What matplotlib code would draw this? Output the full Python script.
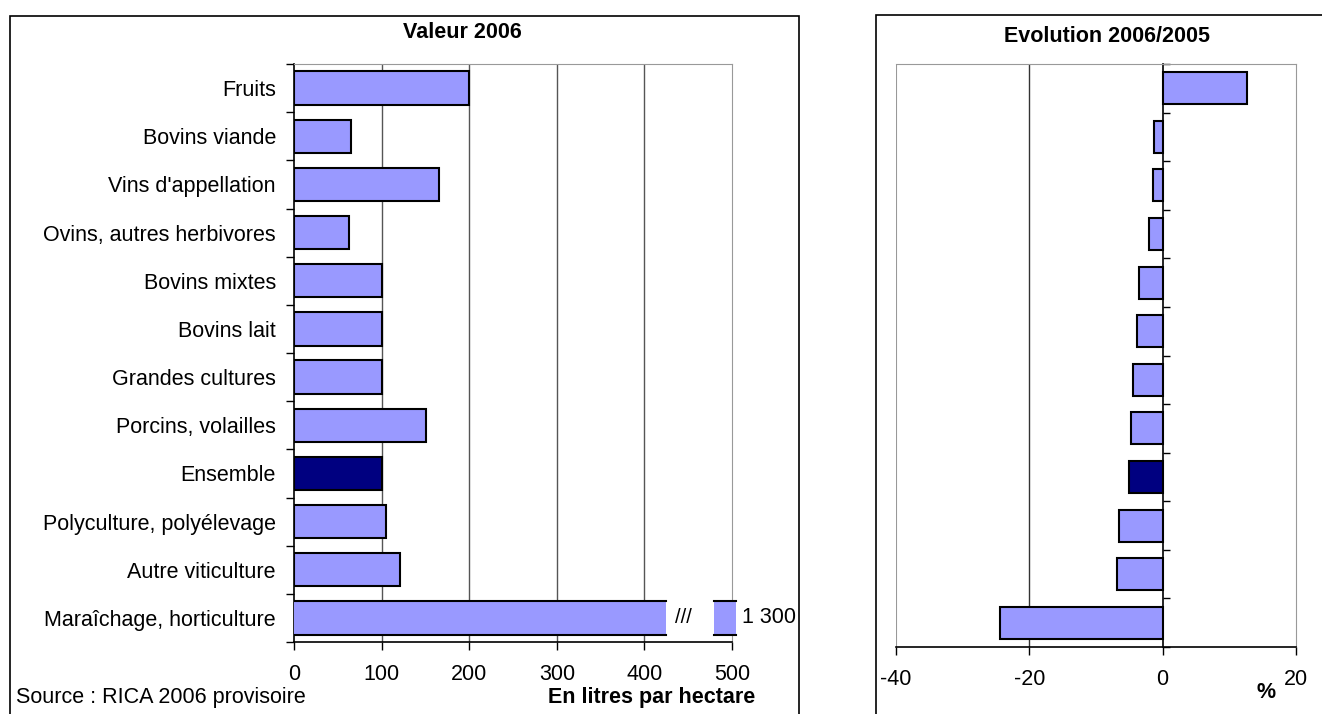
import matplotlib
matplotlib.use("Agg")
import matplotlib.pyplot as plt
from matplotlib.patches import Rectangle

plt.rcParams['font.family'] = ['Liberation Sans', 'DejaVu Sans']

categories = ["Fruits", "Bovins viande", "Vins d'appellation", "Ovins, autres herbivores",
              "Bovins mixtes", "Bovins lait", "Grandes cultures", "Porcins, volailles",
              "Ensemble", "Polyculture, polyélevage", "Autre viticulture",
              "Maraîchage, horticulture"]
valeur_2006 = [200, 65, 165, 63, 100, 100, 100, 151, 100, 105, 121, 1300]
evolution_pct = [12.7, -1.25, -1.5, -2.1, -3.6, -3.9, -4.5, -4.8, -5.1, -6.6, -6.9, -24.4]
highlight = "Ensemble"

LIGHT = "#9999ff"
DARK = "#000080"
FS = 15.5
W, H = 1322, 714

fig = plt.figure(figsize=(W / 100, H / 100), dpi=100)

def fx(px):
    return px / W

def fy(py):
    return 1 - py / H

# outer chart frames (they run off the bottom / right of the picture)
fig.patches.append(Rectangle((fx(10), fy(730)), fx(799) - fx(10), fy(16) - fy(730),
                             transform=fig.transFigure, fill=False, ec="black", lw=1.2))
fig.patches.append(Rectangle((fx(876), fy(730)), fx(1340) - fx(876), fy(15) - fy(730),
                             transform=fig.transFigure, fill=False, ec="black", lw=1.2))

colors = [DARK if c == highlight else LIGHT for c in categories]
ypos = list(range(len(categories)))

# ---- left: Valeur 2006
ax = fig.add_axes([fx(294), fy(642), fx(732) - fx(294), fy(64) - fy(642)])
xmax = 500
cut_lo, cut_hi, shown_end = 425, 479, 505
for y, v, c in zip(ypos, valeur_2006, colors):
    if v <= xmax:
        ax.barh(y, v, height=0.69, color=c, edgecolor="black", lw=1.5, zorder=3)
    else:
        # broken bar: value far beyond the axis
        ax.barh(y, cut_lo, height=0.69, color=c, lw=0, zorder=3)
        ax.barh(y, shown_end - cut_hi, left=cut_hi, height=0.69, color=c, lw=0,
                zorder=3, clip_on=False)
        for yy in (y - 0.345, y + 0.345):
            ax.plot([0, cut_lo], [yy, yy], color="black", lw=1.5, zorder=4)
            ax.plot([cut_hi, shown_end], [yy, yy], color="black", lw=1.5, zorder=4,
                    clip_on=False)
        ax.text((cut_lo + cut_hi) / 2 - 8, y, "///", ha="center", va="center", fontsize=FS - 1)
        ax.text(shown_end + 6, y, f"{v:,}".replace(",", " "), ha="left", va="center",
                fontsize=FS)

ax.set_xlim(0, xmax)
ax.set_ylim(len(categories) - 0.5, -0.5)
ax.set_xticks(range(0, 501, 100))
ax.set_yticks(ypos)
ax.set_yticklabels(categories)
ax.set_yticks([i - 0.5 for i in range(len(categories) + 1)], minor=True)
ax.tick_params(axis="y", which="major", length=0, pad=13, labelsize=FS)
ax.tick_params(axis="y", which="minor", length=6, width=1, direction="out")
ax.tick_params(axis="x", length=6, width=1, direction="out", pad=10, labelsize=FS)
for x in range(100, 500, 100):
    ax.axvline(x, color="#555555", lw=1, zorder=1)
ax.spines["top"].set_color("#999999")
ax.spines["right"].set_color("#999999")
ax.spines["left"].set_linewidth(1.2)
ax.spines["bottom"].set_linewidth(1.2)

fig.text(fx(462), fy(33), "Valeur 2006", ha="center", va="center", fontsize=FS,
         fontweight="bold")
fig.text(fx(16), fy(697), "Source : RICA 2006 provisoire", ha="left", va="center", fontsize=FS)
fig.text(fx(652), fy(697), "En litres par hectare", ha="center", va="center", fontsize=FS,
         fontweight="bold")

# ---- right: Evolution 2006/2005
ax2 = fig.add_axes([fx(896), fy(647), fx(1296) - fx(896), fy(64) - fy(647)])
ax2.barh(ypos, evolution_pct, height=0.66, color=colors, edgecolor="black", lw=1.5, zorder=3)
ax2.set_xlim(-40, 20)
ax2.set_ylim(len(categories) - 0.5, -0.5)
ax2.set_xticks([-40, -20, 0, 20])
ax2.set_xticklabels(["-40", "-20", "0", "20"])
ax2.set_yticks([])
ax2.set_yticks([i - 0.5 for i in range(len(categories) + 1)], minor=True)
ax2.spines["left"].set_position(("data", 0))
ax2.spines["left"].set_linewidth(1.2)
ax2.spines["bottom"].set_linewidth(1.2)
ax2.spines["top"].set_color("#999999")
ax2.spines["right"].set_color("#999999")
ax2.tick_params(axis="y", which="minor", length=5, width=1, direction="in")
ax2.tick_params(axis="x", length=6, width=1, direction="out", pad=10, labelsize=FS)
ax2.axvline(-40, color="#999999", lw=1.5, zorder=1)
ax2.axvline(-20, color="#333333", lw=1, zorder=1)

fig.text(fx(1107), fy(37), "Evolution 2006/2005", ha="center", va="center", fontsize=FS,
         fontweight="bold")
fig.text(fx(1266), fy(693), "%", ha="center", va="center", fontsize=FS, fontweight="bold")

fig.savefig("out.png", dpi=100)
